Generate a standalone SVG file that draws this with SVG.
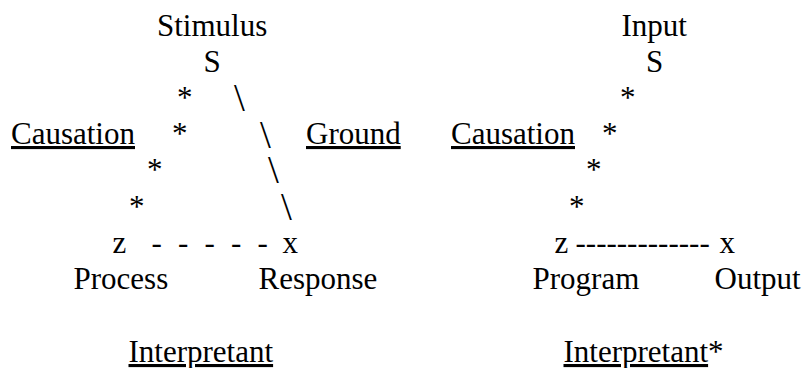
<svg xmlns="http://www.w3.org/2000/svg" width="804" height="368" viewBox="0 0 804 368" font-family="'Liberation Serif', 'Times New Roman', Times, serif">
<style>
text { font-family: 'Liberation Serif', 'Times New Roman', Times, serif; font-size: 31px; fill: #000; }
.u { text-decoration: underline; }
.bs { font-size: 39px; }
</style>
<rect x="0" y="0" width="804" height="368" fill="#fff"/>
<g id="left-diagram">
  <g id="node-stimulus">
    <text x="157" y="36">Stimulus</text>
    <text x="203.5" y="72">S</text>
  </g>
  <g id="label-causation-left"><text class="u" x="11" y="144">Causation</text></g>
  <g id="label-ground"><text class="u" x="306" y="144">Ground</text></g>
  <g id="node-process">
    <text x="112.5" y="253">z</text>
    <text x="73.5" y="289">Process</text>
  </g>
  <g id="node-response">
    <text x="282.5" y="253">x</text>
    <text x="258.5" y="289">Response</text>
  </g>
  <g id="label-interpretant-left"><text class="u" x="128.5" y="362">Interpretant</text></g>
</g>
<g id="right-diagram">
  <g id="node-input">
    <text x="621.5" y="36">Input</text>
    <text x="646" y="72">S</text>
  </g>
  <g id="label-causation-right"><text class="u" x="451" y="144">Causation</text></g>
  <g id="node-program">
    <text x="554.5" y="253">z</text>
    <text x="532.5" y="289">Program</text>
  </g>
  <g id="node-output">
    <text x="719.5" y="253">x</text>
    <text x="714.5" y="289">Output</text>
  </g>
  <g id="label-interpretant-right"><text x="563.5" y="362"><tspan class="u">Interpretant</tspan>*</text></g>
</g>
<g id="connectors">
  <text x="177" y="108">*</text>
  <text x="172" y="144">*</text>
  <text x="147" y="180">*</text>
  <text x="129" y="217">*</text>
  <text class="bs" x="234" y="111.3">\</text>
  <text class="bs" x="260" y="148.3">\</text>
  <text class="bs" x="268" y="183.3">\</text>
  <text class="bs" x="281" y="220.3">\</text>
  <text x="151.6" y="253" word-spacing="8.4">- - - - -</text>
  <text x="620" y="108">*</text>
  <text x="602" y="144">*</text>
  <text x="586" y="180">*</text>
  <text x="569" y="217">*</text>
  <text x="575.5" y="253">-------------</text>
</g>
</svg>
